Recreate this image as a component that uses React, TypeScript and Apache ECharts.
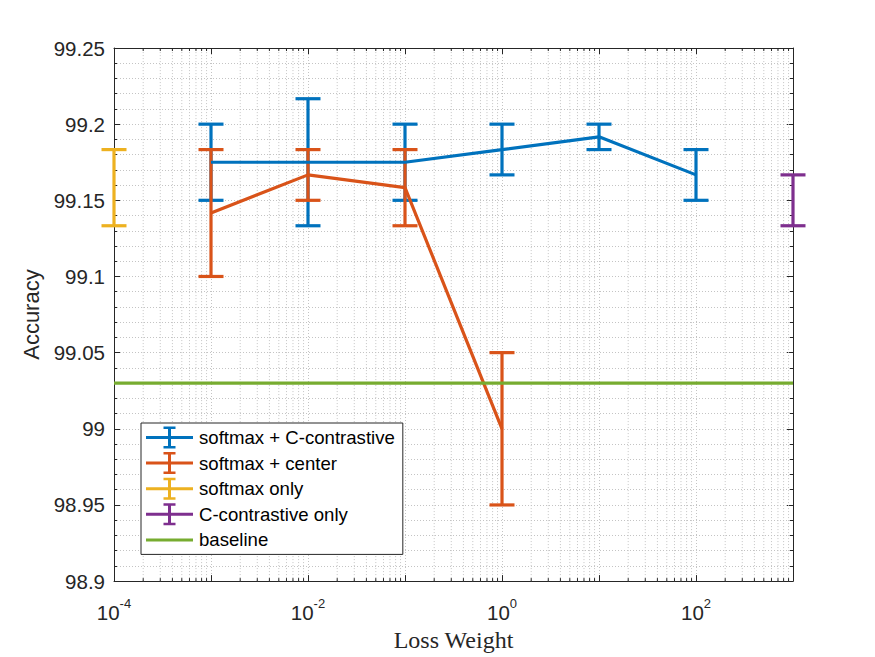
import React, { useEffect, useRef } from "react";
import * as echarts from "echarts";

// ---- data ----
const weightsCC = [1e-3, 1e-2, 1e-1, 1, 10, 100];
const meanCC = [99.175, 99.175, 99.175, 99.1833, 99.1917, 99.1667];
const lowCC = [99.15, 99.1333, 99.15, 99.1667, 99.1833, 99.15];
const highCC = [99.2, 99.2167, 99.2, 99.2, 99.2, 99.1833];

const weightsCenter = [1e-3, 1e-2, 1e-1, 1];
const meanCenter = [99.1417, 99.1667, 99.1583, 99.0];
const lowCenter = [99.1, 99.15, 99.1333, 98.95];
const highCenter = [99.1833, 99.1833, 99.1833, 99.05];

const weightsSoftmax = [1e-4];
const lowSoftmax = [99.1333];
const highSoftmax = [99.1833];

const weightsCOnly = [1e3];
const lowCOnly = [99.1333];
const highCOnly = [99.1667];

const baselineValue = 99.03;

const seriesNames = [
  "softmax + C-contrastive",
  "softmax + center",
  "softmax only",
  "C-contrastive only",
  "baseline",
];

const X_MIN = 1e-4;
const X_MAX = 1e3;
const Y_MIN = 98.9;
const Y_MAX = 99.25;
const Y_STEP = 0.05;

// ---- style ----
const BLUE = "#0072BD";
const ORANGE = "#D95319";
const YELLOW = "#EDB120";
const PURPLE = "#7E2F8E";
const GREEN = "#77AC30";
const AXIS = "#262626";
const GRID = "#c4c4c4";
const SANS = "Liberation Sans";
const SERIF = "Liberation Serif";
const FS_TICK = 20.5;
const FS_LABEL = 22;
const FS_LEGEND = 18.6;
const LW = 3.2;
const CAP = 12.5;

const EB_ICON =
  "path://M0,9.5H47V12.5H0Z M22,0H25V22H22Z M17.5,0H29.5V2.5H17.5Z M17.5,19.5H29.5V22H17.5Z";
const LINE_ICON = "path://M0,9.5H47V12.5H0Z M0,0L0,0 M0,22L0,22";

// minor log ticks positions (axis decoration)
const minorX: number[] = [];
for (let e = -4; e < 3; e++) {
  for (let m = 2; m <= 9; m++) minorX.push(m * Math.pow(10, e));
}

function errorBars(name: string, color: string, xs: number[], lo: number[], hi: number[]) {
  return {
    type: "custom",
    name,
    z: 3,
    silent: true,
    itemStyle: { color },
    data: xs.map((x, i) => [x, lo[i], hi[i]]),
    encode: { x: 0, y: [1, 2] },
    renderItem: (_p: any, api: any) => {
      const a = api.coord([api.value(0), api.value(1)]);
      const b = api.coord([api.value(0), api.value(2)]);
      const style = { stroke: color, lineWidth: LW, fill: null };
      return {
        type: "group",
        children: [
          { type: "line", shape: { x1: a[0], y1: a[1], x2: b[0], y2: b[1] }, style },
          { type: "line", shape: { x1: a[0] - CAP, y1: a[1], x2: a[0] + CAP, y2: a[1] }, style },
          { type: "line", shape: { x1: b[0] - CAP, y1: b[1], x2: b[0] + CAP, y2: b[1] }, style },
        ],
      };
    },
  };
}

function meanLine(name: string, color: string, xs: number[], ys: number[]) {
  return {
    type: "line",
    name,
    z: 3,
    silent: true,
    symbol: "none",
    data: xs.map((x, i) => [x, ys[i]]),
    lineStyle: { color, width: LW },
    itemStyle: { color },
  };
}

export default function App() {
  const ref = useRef<HTMLDivElement>(null);
  useEffect(() => {
    if (!ref.current) return;
    const chart = echarts.init(ref.current, undefined, { renderer: "svg" });
    const supLabel = (v: number) => {
      const e = Math.round(Math.log10(v));
      if (e % 2 !== 0) return "";
      return "{b|10}{s|" + e + "}";
    };
    const xCommon = {
      type: "log",
      logBase: 10,
      min: X_MIN,
      max: X_MAX,
      axisLine: { show: true, lineStyle: { color: AXIS, width: 1 } },
      axisTick: { show: true, inside: true, length: 6, lineStyle: { color: AXIS } },
    };
    const yCommon = {
      type: "value",
      min: Y_MIN,
      max: Y_MAX,
      interval: Y_STEP,
      axisLine: { show: true, lineStyle: { color: AXIS, width: 1 } },
      axisTick: { show: true, inside: true, length: 6, lineStyle: { color: AXIS } },
      minorTick: { show: true, splitNumber: 5, length: 3, lineStyle: { color: AXIS } },
    };
    const option: any = {
      animation: false,
      backgroundColor: "#ffffff",
      grid: { left: 114, top: 48, width: 679, height: 536, containLabel: false },
      xAxis: [
        {
          ...xCommon,
          position: "bottom",
          name: "Loss Weight",
          nameLocation: "middle",
          nameGap: 43,
          nameTextStyle: { fontFamily: SERIF, fontSize: 24, color: AXIS },
          axisLabel: {
            show: true,
            interval: 0,
            margin: 16,
            formatter: supLabel,
            rich: {
              b: { fontFamily: SANS, fontSize: FS_TICK, color: AXIS, verticalAlign: "bottom", lineHeight: 26 },
              s: { fontFamily: SANS, fontSize: 13, color: AXIS, verticalAlign: "top", lineHeight: 14 },
            },
          },
          splitLine: { show: true, lineStyle: { color: GRID, type: [1, 2] } },
        },
        {
          ...xCommon,
          position: "top",
          axisLabel: { show: false },
          splitLine: { show: false },
        },
      ],
      yAxis: [
        {
          ...yCommon,
          position: "left",
          name: "Accuracy",
          nameLocation: "middle",
          nameGap: 68,
          nameTextStyle: { fontFamily: SANS, fontSize: FS_LABEL, color: AXIS },
          axisLabel: { fontFamily: SANS, fontSize: FS_TICK, color: AXIS, margin: 9 },
          splitLine: { show: true, lineStyle: { color: GRID, type: [1, 2] } },
          minorSplitLine: { show: true, lineStyle: { color: GRID, type: [1, 2] } },
        },
        {
          ...yCommon,
          position: "right",
          axisLabel: { show: false },
          splitLine: { show: false },
        },
      ],
      legend: {
        orient: "vertical",
        left: 141,
        top: 423,
        selectedMode: false,
        itemWidth: 47,
        itemHeight: 22,
        itemGap: 3.6,
        padding: [3.5, 8, 3.5, 5],
        backgroundColor: "#ffffff",
        borderColor: AXIS,
        borderWidth: 1,
        borderRadius: 0,
        textStyle: { fontFamily: SANS, fontSize: FS_LEGEND, color: "#000", padding: [0, 0, 0, 1] },
        data: [
          { name: seriesNames[0], icon: EB_ICON },
          { name: seriesNames[1], icon: EB_ICON },
          { name: seriesNames[2], icon: EB_ICON },
          { name: seriesNames[3], icon: EB_ICON },
          { name: seriesNames[4], icon: LINE_ICON },
        ],
      },
      series: [
        {
          type: "custom",
          name: "minor-grid",
          z: 1,
          silent: true,
          data: minorX.map((v) => [v, Y_MIN]),
          encode: { x: 0, y: 1 },
          renderItem: (_p: any, api: any) => {
            const a = api.coord([api.value(0), Y_MIN]);
            const b = api.coord([api.value(0), Y_MAX]);
            const tick = { stroke: AXIS, lineWidth: 1 };
            return {
              type: "group",
              children: [
                {
                  type: "line",
                  shape: { x1: a[0], y1: a[1], x2: b[0], y2: b[1] },
                  style: { stroke: GRID, lineWidth: 1, lineDash: [1, 2] },
                },
                { type: "line", shape: { x1: a[0], y1: a[1], x2: a[0], y2: a[1] - 3 }, style: tick },
                { type: "line", shape: { x1: b[0], y1: b[1], x2: b[0], y2: b[1] + 3 }, style: tick },
              ],
            };
          },
        },
        errorBars(seriesNames[0], BLUE, weightsCC, lowCC, highCC),
        meanLine(seriesNames[0], BLUE, weightsCC, meanCC),
        errorBars(seriesNames[1], ORANGE, weightsCenter, lowCenter, highCenter),
        meanLine(seriesNames[1], ORANGE, weightsCenter, meanCenter),
        errorBars(seriesNames[2], YELLOW, weightsSoftmax, lowSoftmax, highSoftmax),
        errorBars(seriesNames[3], PURPLE, weightsCOnly, lowCOnly, highCOnly),
        {
          type: "line",
          name: seriesNames[4],
          z: 4,
          silent: true,
          symbol: "none",
          data: [
            [X_MIN, baselineValue],
            [X_MAX, baselineValue],
          ],
          lineStyle: { color: GREEN, width: LW },
          itemStyle: { color: GREEN },
        },
      ],
    };
    chart.setOption(option);
    return () => chart.dispose();
  }, []);
  return (
    <div
      ref={ref}
      style={{ position: "absolute", left: 0, top: 0, width: 875, height: 657, background: "#fff" }}
    />
  );
}
